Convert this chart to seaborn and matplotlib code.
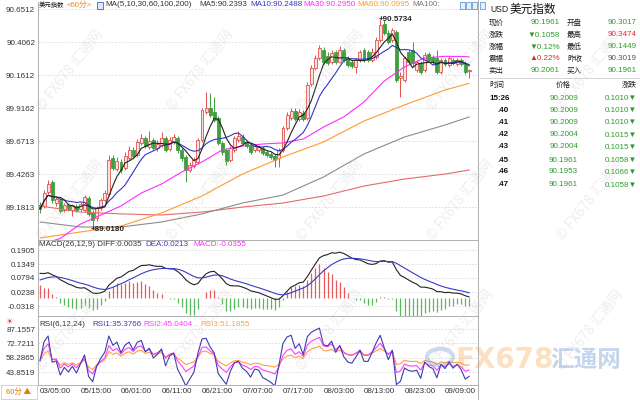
import numpy as np
import pandas as pd
import matplotlib
matplotlib.use("Agg")
import matplotlib.pyplot as plt
import matplotlib.font_manager as fm
from matplotlib.patches import Rectangle, Circle
import seaborn as sns

# ---------------- data ----------------
opens = [89.196, 89.189, 89.293, 89.367, 89.211, 89.233, 89.159, 89.196, 89.159, 89.189,
         89.167, 89.159, 89.248, 89.144, 89.100, 89.174, 89.233, 89.278, 89.545, 89.464,
         89.516, 89.471, 89.545, 89.605, 89.568, 89.657, 89.694, 89.627, 89.679, 89.619,
         89.642, 89.694, 89.612, 89.664, 89.694, 89.605, 89.553, 89.456, 89.486, 89.516,
         89.679, 89.887, 89.916, 89.887, 89.842, 89.657, 89.605, 89.530, 89.605, 89.679,
         89.701, 89.664, 89.642, 89.605, 89.605, 89.619, 89.590, 89.575, 89.560, 89.545,
         89.605, 89.768, 89.842, 89.894, 89.835, 89.879, 89.842, 90.095, 90.213, 90.288,
         90.347, 90.302, 90.258, 90.332, 90.258, 90.347, 90.288, 90.258, 90.221, 90.273,
         90.347, 90.332, 90.273, 90.295, 90.421, 90.540, 90.473, 90.421, 90.481, 90.139,
         90.124, 90.332, 90.347, 90.198, 90.250, 90.198, 90.317, 90.295, 90.288, 90.184,
         90.273, 90.236, 90.273, 90.243, 90.273, 90.250, 90.191]
closes = [89.167, 89.285, 89.352, 89.233, 89.241, 89.152, 89.196, 89.167, 89.196, 89.159,
          89.204, 89.256, 89.130, 89.085, 89.174, 89.233, 89.285, 89.530, 89.471, 89.523,
          89.456, 89.560, 89.605, 89.560, 89.664, 89.694, 89.634, 89.671, 89.619, 89.649,
          89.694, 89.605, 89.679, 89.701, 89.605, 89.545, 89.456, 89.493, 89.530, 89.679,
          89.902, 89.916, 89.864, 89.827, 89.657, 89.590, 89.523, 89.619, 89.694, 89.709,
          89.657, 89.634, 89.590, 89.634, 89.627, 89.582, 89.568, 89.553, 89.530, 89.605,
          89.768, 89.864, 89.894, 89.835, 89.887, 89.835, 90.087, 90.213, 90.288, 90.362,
          90.258, 90.250, 90.325, 90.258, 90.347, 90.273, 90.236, 90.228, 90.273, 90.332,
          90.273, 90.273, 90.332, 90.421, 90.533, 90.473, 90.406, 90.495, 90.124, 90.154,
          90.288, 90.258, 90.250, 90.258, 90.184, 90.310, 90.273, 90.258, 90.184, 90.273,
          90.243, 90.288, 90.250, 90.273, 90.243, 90.184, 90.1961]
highs = [89.218, 89.307, 89.382, 89.382, 89.256, 89.248, 89.211, 89.211, 89.204, 89.204,
         89.218, 89.270, 89.263, 89.159, 89.189, 89.248, 89.307, 89.568, 89.568, 89.553,
         89.538, 89.590, 89.634, 89.627, 89.686, 89.723, 89.709, 89.746, 89.694, 89.679,
         89.738, 89.709, 89.701, 89.723, 89.709, 89.619, 89.568, 89.516, 89.553, 89.694,
         89.916, 90.035, 90.028, 89.998, 89.857, 89.671, 89.619, 89.634, 89.709, 89.746,
         89.723, 89.679, 89.657, 89.649, 89.642, 89.634, 89.605, 89.590, 89.575, 89.619,
         89.783, 89.887, 89.916, 89.916, 89.909, 89.902, 90.109, 90.236, 90.310, 90.384,
         90.369, 90.332, 90.347, 90.347, 90.377, 90.362, 90.302, 90.273, 90.288, 90.347,
         90.362, 90.347, 90.362, 90.443, 90.5734, 90.570, 90.495, 90.510, 90.495, 90.184,
         90.302, 90.347, 90.406, 90.273, 90.265, 90.332, 90.332, 90.310, 90.347, 90.288,
         90.288, 90.302, 90.288, 90.288, 90.288, 90.265, 90.206]
lows = [89.137, 89.174, 89.278, 89.211, 89.189, 89.137, 89.144, 89.152, 89.115, 89.144,
        89.152, 89.144, 89.115, 89.0180, 89.078, 89.159, 89.218, 89.263, 89.456, 89.449,
        89.434, 89.456, 89.530, 89.545, 89.553, 89.642, 89.619, 89.612, 89.605, 89.597,
        89.627, 89.590, 89.597, 89.649, 89.582, 89.523, 89.367, 89.441, 89.471, 89.501,
        89.664, 89.872, 89.850, 89.812, 89.642, 89.568, 89.493, 89.516, 89.590, 89.664,
        89.642, 89.619, 89.575, 89.590, 89.590, 89.568, 89.553, 89.538, 89.478, 89.478,
        89.590, 89.753, 89.827, 89.820, 89.820, 89.820, 89.827, 90.080, 90.198, 90.273,
        90.243, 90.236, 90.243, 90.243, 90.250, 90.258, 90.221, 90.213, 90.176, 90.258,
        90.258, 90.258, 90.258, 90.280, 90.406, 90.458, 90.391, 90.406, 90.109, 89.998,
        90.109, 90.243, 90.228, 90.184, 90.169, 90.184, 90.258, 90.243, 90.169, 90.169,
        90.228, 90.221, 90.236, 90.228, 90.228, 90.169, 90.139]

# long moving averages, read at sparse candle positions
ma30_pos = [0, 5, 10, 15, 20, 25, 30, 35, 40, 45, 50, 55, 60, 65, 70, 75, 80, 85, 90, 95, 100, 105, 106]
ma30_val = [88.899, 88.948, 89.055, 89.122, 89.189, 89.285, 89.352, 89.441, 89.516, 89.605,
            89.634, 89.649, 89.657, 89.686, 89.775, 89.850, 89.961, 90.117, 90.221, 90.288,
            90.300, 90.298, 90.295]
ma_pos = [0, 10, 20, 30, 40, 50, 60, 70, 80, 90, 100, 106]
ma60_val = [88.951, 88.996, 89.040, 89.137, 89.263, 89.426, 89.553, 89.664, 89.820, 89.939, 90.050, 90.0995]
ma100_val = [89.070, 89.033, 89.033, 89.070, 89.130, 89.211, 89.270, 89.404, 89.575, 89.701, 89.790, 89.850]
ma200_val = [89.189, 89.144, 89.130, 89.122, 89.144, 89.181, 89.211, 89.263, 89.337, 89.389, 89.426, 89.456]

ema12_start, ema26_start, dea_start = 89.215, 89.105, 0.065
prev_close_start = 89.190
rsi_start = {6: (0.021, 0.0333), 12: (0.018, 0.030), 24: (0.016, 0.028)}

main_ticks = [90.6512, 90.4062, 90.1612, 89.9162, 89.6713, 89.4263, 89.1813]
macd_ticks = [0.1905, 0.1349, 0.0794, 0.0238, -0.0318]
rsi_ticks = [87.1557, 72.7211, 58.2865, 43.8519]
date_pos = [0, 10, 20, 30, 40, 50, 60, 70, 80, 90, 100]
date_labels = ["03/05:00", "05/15:00", "06/01:00", "06/11:00", "06/21:00", "07/07:00",
               "07/17:00", "08/03:00", "08/13:00", "08/23:00", "09/09:00"]

info_left_lbl = ["现价", "涨跌", "涨幅", "震幅", "卖出"]
info_left_val = ["90.1961", "▼0.1058", "▼0.12%", "▲0.22%", "90.2061"]
info_left_col = ["g", "g", "g", "r", "g"]
info_right_lbl = ["开盘", "最高", "最低", "昨收", "买入"]
info_right_val = ["90.3017", "90.3474", "90.1449", "90.3019", "90.1961"]
info_right_col = ["g", "r", "g", "k", "g"]
tick_times = ["15:26", ".40", ".41", ".42", ".43", ".45", ".46", ".47"]
tick_prices = ["90.2009", "90.2009", "90.2009", "90.2004", "90.2004", "90.1961", "90.1953", "90.1961"]
tick_chg = ["0.1010", "0.1010", "0.1010", "0.1015", "0.1015", "0.1058", "0.1066", "0.1058"]

# ---------------- styling ----------------
sns.set_theme(style="white")
names = {f.name for f in fm.fontManager.ttflist}
NARROW = 'Liberation Sans Narrow' if 'Liberation Sans Narrow' in names else 'Liberation Sans'
plt.rcParams['font.family'] = [NARROW, 'Noto Sans CJK SC', 'DejaVu Sans']
CJK = ['Noto Sans CJK SC', 'DejaVu Sans']
NUMFS = 7.0 if NARROW == 'Liberation Sans Narrow' else 5.8

GREEN = '#2f9a2f'
RED = '#e02a2a'
COL = {"g": GREEN, "r": RED, "k": '#555555'}

W, H = 640, 400
fig = plt.figure(figsize=(6.4, 4.0), dpi=100)
fig.patch.set_facecolor('white')

def fx(x):
    return x / W

def fy(y):
    return 1 - y / H

L, R = 38, 478
def axes_px(top, bottom):
    return fig.add_axes([fx(L), fy(bottom), (R - L) / W, (bottom - top) / H])

ax = axes_px(2, 240)
axm = axes_px(240, 316)
axr = axes_px(316, 385)

n = len(closes)
idx = np.arange(n)
df = pd.DataFrame({'i': idx, 'open': opens, 'close': closes, 'high': highs, 'low': lows})
xlo = -2 / 4.05
xhi = xlo + 440 / 4.05

# ---------------- candles ----------------
up = df['close'] >= df['open']
for sub, fc, ec in [(df[up], '#fbe1e1', '#e4504b'), (df[~up], '#3f9f3f', '#3f9f3f')]:
    ax.vlines(sub['i'], sub['low'], sub['high'], color=ec, lw=0.7, zorder=2)
    ax.bar(sub['i'], (sub['close'] - sub['open']).abs().clip(lower=0.003),
           bottom=np.minimum(sub['open'], sub['close']), width=0.72,
           color=fc, edgecolor=ec, linewidth=0.6, zorder=3)

df['ma5'] = df['close'].rolling(5, min_periods=1).mean()
df['ma10'] = df['close'].rolling(10, min_periods=1).mean()
sns.lineplot(x=ma_pos, y=ma200_val, ax=ax, color='#e86a6a', lw=0.8, zorder=4)
sns.lineplot(x=ma_pos, y=ma100_val, ax=ax, color='#8c8c8c', lw=0.8, zorder=4)
sns.lineplot(x=ma_pos, y=ma60_val, ax=ax, color='#ff9a2e', lw=0.8, zorder=4)
sns.lineplot(x=ma30_pos, y=ma30_val, ax=ax, color='#ff2bff', lw=0.8, zorder=4)
sns.lineplot(data=df, x='i', y='ma10', ax=ax, color='#3535c0', lw=0.8, zorder=5)
sns.lineplot(data=df, x='i', y='ma5', ax=ax, color='#222222', lw=0.8, zorder=6)

hi_i = int(np.argmax(highs))
lo_i = int(np.argmin(lows))
ax.text(hi_i - 0.4, highs[hi_i], "+%.4f" % highs[hi_i], fontsize=NUMFS, color='#222222',
        ha='left', va='center', fontweight='bold', zorder=7)
ax.text(lo_i - 0.4, lows[lo_i], "+%.4f" % lows[lo_i], fontsize=NUMFS, color='#222222',
        ha='left', va='center', fontweight='bold', zorder=7)

ax.set_xlim(xlo, xhi)
ax.set_ylim(90.7181 - 0.007424 * 240, 90.7181 - 0.007424 * 2)
ax.set_yticks(main_ticks)
ax.set_yticklabels(["%.4f" % t for t in main_ticks])

# ---------------- MACD ----------------
def ema(vals, span, start):
    a = 2 / (span + 1)
    out, prev = [], start
    for v in vals:
        prev = a * v + (1 - a) * prev
        out.append(prev)
    return np.array(out)

e12 = ema(closes, 12, ema12_start)
e26 = ema(closes, 26, ema26_start)
diff = e12 - e26
dea = ema(diff, 9, dea_start)
hist = 2 * (diff - dea)
pos = hist >= 0
axm.vlines(idx[pos], 0, hist[pos], color='#e85a5a', lw=0.9)
axm.vlines(idx[~pos], 0, hist[~pos], color='#5cb85c', lw=0.9)
sns.lineplot(x=idx, y=diff, ax=axm, color='#222222', lw=0.8)
sns.lineplot(x=idx, y=dea, ax=axm, color='#3a3ac8', lw=0.8)
axm.set_xlim(xlo, xhi)
axm.set_ylim(-18 * 0.00397, 58 * 0.00397)
axm.set_yticks(macd_ticks)
axm.set_yticklabels(["%.4f" % t for t in macd_ticks])

# ---------------- RSI ----------------
chg = np.diff(np.array(closes), prepend=prev_close_start)
def sma_cn(vals, nn, start):
    out, prev = [], start
    for v in vals:
        prev = (v + (nn - 1) * prev) / nn
        out.append(prev)
    return np.array(out)

rsi_cols = {6: '#3b3bb4', 12: '#ff3cff', 24: '#ffa040'}
for nn in (24, 12, 6):
    u0, a0 = rsi_start[nn]
    upm = sma_cn(np.maximum(chg, 0), nn, u0)
    absm = sma_cn(np.abs(chg), nn, a0)
    rsi = upm / absm * 100
    sns.lineplot(x=idx, y=rsi, ax=axr, color=rsi_cols[nn], lw=0.8)
axr.set_xlim(xlo, xhi)
axr.set_ylim(87.1557 - 56 * 0.9955, 87.1557 + 13 * 0.9955)
axr.set_yticks(rsi_ticks)
axr.set_yticklabels(["%.4f" % t for t in rsi_ticks])
axr.set_xticks(date_pos)
axr.set_xticklabels(date_labels, ha='left')

for a in (ax, axm, axr):
    a.set_xlabel('')
    a.set_ylabel('')
    a.yaxis.grid(True, ls=(0, (2, 2)), color='#d9d9d9', lw=0.6)
    a.xaxis.grid(False)
    a.tick_params(axis='both', length=0, labelsize=NUMFS, colors='#333333', pad=2)
    for s in a.spines.values():
        s.set_color('#b0b0b0')
        s.set_linewidth(0.7)
    a.set_facecolor('none')
    leg = a.get_legend()
    if leg:
        leg.remove()
ax.set_xticks([])
axm.set_xticks([])
ax.spines['top'].set_visible(False)

# ---------------- texts ----------------
def T(x, y, s, **kw):
    kw.setdefault('fontsize', NUMFS)
    kw.setdefault('va', 'center')
    fig.text(fx(x), fy(y), s, **kw)

# main title
T(39, 5, "美元指数", family=CJK, fontsize=4.6, color='#111111')
T(67, 5, "<60分>", family=[NARROW] + CJK, fontsize=5.6, color='#f08a1a')
fig.patches.append(Rectangle((fx(97), fy(9)), 6 / W, 7 / H, transform=fig.transFigure,
                             fc='#dfe8ff', ec='#3366cc', lw=0.6))
T(105, 5, "MA(5,10,30,60,100,200)", color='#333333')
T(199, 5, "MA5:90.2393", color='#333333')
T(250, 5, "MA10:90.2488", color='#3535c0')
T(303, 5, "MA30:90.2950", color='#ff2bff')
T(357, 5, "MA60:90.0995", color='#ff9a2e')
T(412, 5, "MA100:", color='#777777')
for bx in (460, 466, 472, 480):
    fig.patches.append(Rectangle((fx(bx), fy(9)), 5 / W, 7 / H, transform=fig.transFigure,
                                 fc='#e6f0ff', ec='#4a86d6', lw=0.5))

# MACD / RSI titles
T(39, 244, "MACD(26,12,9) DIFF:0.0035", color='#333333')
T(145, 244, "DEA:0.0213", color='#3a3ac8')
T(193, 244, "MACD:-0.0355", color='#ff2bff')
T(5, 322, "☀", family=['DejaVu Sans'], fontsize=6, color='#e03030')
T(39, 324, "RSI(6,12,24)", color='#333333')
T(92, 324, "RSI1:35.3766", color='#3b3bb4')
T(143, 324, "RSI2:45.0404", color='#ff3cff')
T(200, 324, "RSI3:51.1855", color='#ffa040')

# period box bottom-left
fig.patches.append(Rectangle((fx(1), fy(399)), 36 / W, 14 / H, transform=fig.transFigure,
                             fc='white', ec='#cccccc', lw=0.6))
T(19, 392, "60分 ▲", family=CJK, fontsize=5.4, color='#e07b00', ha='center')

# right panel
fig.add_artist(plt.Line2D([fx(R), fx(R)], [0, 1], color='#b0b0b0', lw=0.7))
T(490, 9, "USD", fontsize=NUMFS + 0.4, color='#222222')
T(510, 9, "美元指数", family=CJK, fontsize=8.4, color='#111111')
rows_y = [23, 35, 47, 59, 71]
for k, yy in enumerate(rows_y):
    T(489, yy, info_left_lbl[k], family=CJK, fontsize=5.4, color='#222222')
    T(560, yy, info_left_val[k], color=COL[info_left_col[k]], ha='right')
    T(567, yy, info_right_lbl[k], family=CJK, fontsize=5.4, color='#222222')
    T(637, yy, info_right_val[k], color=COL[info_right_col[k]], ha='right')
fig.add_artist(plt.Line2D([fx(480), fx(640)], [fy(78), fy(78)], color='#cccccc', lw=0.6))
T(489, 85, "时间", family=CJK, fontsize=5.4, color='#222222')
T(563, 85, "价格", family=CJK, fontsize=5.4, color='#222222', ha='center')
T(637, 85, "涨跌", family=CJK, fontsize=5.4, color='#222222', ha='right')
trade_y = [98, 110, 122, 135, 147, 160, 172, 185]
for k, yy in enumerate(trade_y):
    T(489 if k == 0 else 497, yy, tick_times[k], color='#111111', fontweight='bold')
    T(578, yy, tick_prices[k], color=GREEN, ha='right')
    T(637, yy, tick_chg[k] + "▼", color=GREEN, ha='right')

# watermarks
for wx in (70, 200, 330, 460, 590):
    for wy in (70, 200, 330):
        T(wx, wy, "© FX678 汇通网", family=CJK, fontsize=10, color='#c8c8c8',
          alpha=0.3, rotation=52, ha='center')
fig.add_artist(Circle((fx(440), fy(357)), 13 / W, transform=fig.transFigure,
                      fill=False, ec='#4a7fc8', lw=3, alpha=0.28))
T(455, 360, "FX678", family=['DejaVu Sans'], fontsize=20, fontweight='bold',
  color='#f5a040', alpha=0.32)
T(550, 360, "汇通网", family=CJK, fontsize=17, fontweight='bold', color='#4a7fc8', alpha=0.32)

fig.savefig("out.png", dpi=100, facecolor='white')
